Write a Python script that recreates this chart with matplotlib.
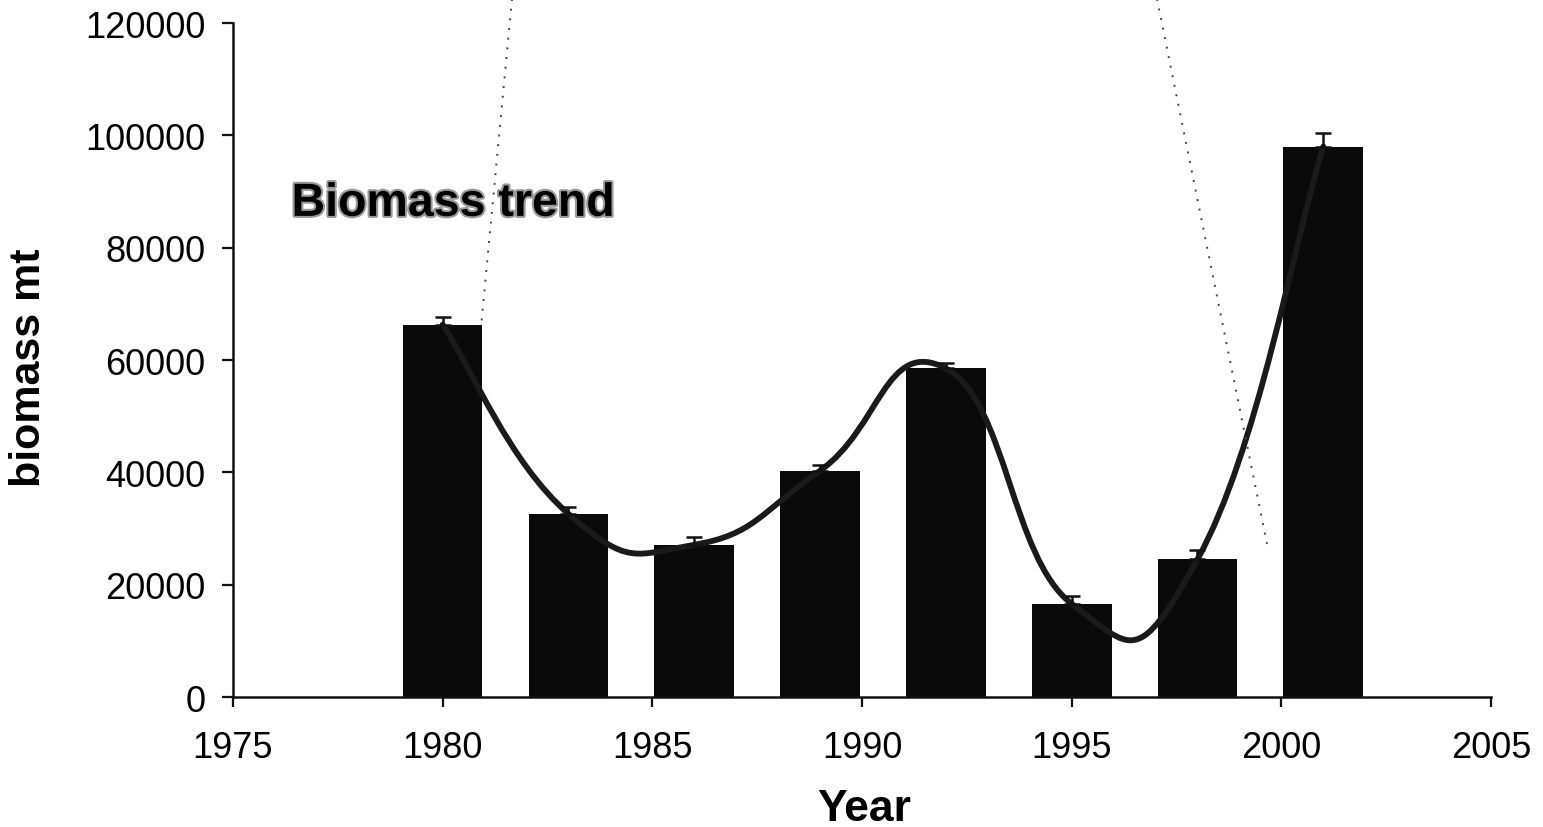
import matplotlib
matplotlib.use("Agg")
import matplotlib.pyplot as plt
import matplotlib.patheffects as pe
from matplotlib.path import Path
from matplotlib.patches import PathPatch
from matplotlib.lines import Line2D

plt.rcParams['font.family'] = ['Liberation Sans', 'DejaVu Sans']

# survey years and estimated biomass (mt)
years = [1980, 1983, 1986, 1989, 1992, 1995, 1998, 2001]
biomass = [66300, 32600, 27100, 40300, 58500, 16600, 24500, 98000]
err_up = [1300, 1300, 1400, 1000, 900, 1300, 1600, 2500]

x_ticks = [1975, 1980, 1985, 1990, 1995, 2000, 2005]
y_ticks = [0, 20000, 40000, 60000, 80000, 100000, 120000]


def smooth_path(xs, ys, k=0.24):
    # Excel-like smoothed line: cubic Bezier segments through every point
    pts = list(zip(xs, ys))
    n = len(pts)
    verts = [pts[0]]
    codes = [Path.MOVETO]
    for i in range(n - 1):
        p0 = pts[i - 1] if i > 0 else pts[i]
        p1 = pts[i]
        p2 = pts[i + 1]
        p3 = pts[i + 2] if i + 2 < n else pts[i + 1]
        c1 = (p1[0] + k * (p2[0] - p0[0]), p1[1] + k * (p2[1] - p0[1]))
        c2 = (p2[0] - k * (p3[0] - p1[0]), p2[1] - k * (p3[1] - p1[1]))
        verts += [c1, c2, p2]
        codes += [Path.CURVE4] * 3
    return Path(verts, codes)


fig = plt.figure(figsize=(15.43, 8.28), dpi=100)
ax = fig.add_axes([0.151, 0.157, 0.8153, 0.814])

ax.bar(years, biomass, width=1.9, color='#0a0a0a', zorder=2)
ax.add_patch(PathPatch(smooth_path(years, biomass), facecolor='none',
                       edgecolor='#1a1a1a', lw=4.2, zorder=3, capstyle='round'))
ax.errorbar(years, biomass, yerr=[[0] * len(err_up), err_up], fmt='none',
            ecolor='#111111', elinewidth=1.8, capsize=6, capthick=1.8, zorder=4)

ax.set_xlim(1975, 2005)
ax.set_ylim(0, 120000)
ax.set_xticks(x_ticks)
ax.set_yticks(y_ticks)
ax.tick_params(axis='both', labelsize=26, width=1.6, direction='out', color='#111111')
ax.tick_params(axis='x', length=7, pad=17)
ax.tick_params(axis='y', length=8, pad=12)

for s in ['top', 'right']:
    ax.spines[s].set_visible(False)
for s in ['left', 'bottom']:
    ax.spines[s].set_linewidth(1.8)
    ax.spines[s].set_color('#111111')

ax.set_ylabel('biomass mt', fontsize=31, fontweight='bold')
ax.yaxis.set_label_coords(-0.146, 0.49)
ax.set_xlabel('Year', fontsize=32, fontweight='bold', va='top')
ax.xaxis.set_label_coords(0.502, -0.135)

ax.text(1980.25, 87800, 'Biomass trend', fontsize=33.5, fontweight='bold',
        ha='center', va='center', zorder=5,
        path_effects=[pe.withStroke(linewidth=3, foreground='#9a9a9a')])

# dotted callout lines from the scanned page
fig.add_artist(Line2D([512 / 1543, 481 / 1543], [1.0, 1 - 328 / 828],
                      transform=fig.transFigure, color='#444444', lw=1.4,
                      linestyle=(0, (1, 4)), zorder=1))
fig.add_artist(Line2D([1157 / 1543, 1267 / 1543], [1.0, 1 - 545 / 828],
                      transform=fig.transFigure, color='#444444', lw=1.4,
                      linestyle=(0, (1, 4)), zorder=1))

fig.savefig('out.png', dpi=100)
